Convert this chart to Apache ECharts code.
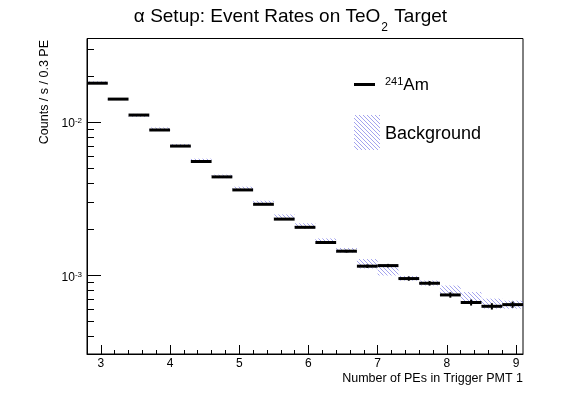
<!DOCTYPE html>
<html>
<head>
<meta charset="utf-8">
<script src="https://cdn.jsdelivr.net/npm/echarts@6.0.0/dist/echarts.min.js"></script>
<style>
  html, body { margin: 0; padding: 0; background: #fff; }
  #main { width: 581px; height: 394px; }
</style>
</head>
<body>
<div id="main"></div>
<script>
// bins of 0.3 PE
var binEdges = [2.8, 3.1, 3.4, 3.7, 4.0, 4.3, 4.6, 4.9, 5.2, 5.5, 5.8, 6.1,
                6.4, 6.7, 7.0, 7.3, 7.6, 7.9, 8.2, 8.5, 8.8, 9.1];
// 241Am rate and its error
var amRate = [0.0179, 0.0141, 0.0111, 0.00887, 0.00697, 0.00553, 0.00439, 0.00361,
              0.00291, 0.00233, 0.00206, 0.00164, 0.00144, 0.00115, 0.00116, 0.000955,
              0.00089, 0.000747, 0.000667, 0.00063, 0.000646];
var amErr = [0.0001, 0.00008, 0.00006, 0.00005, 0.00004, 0.00004, 0.00003, 0.00003,
             0.00003, 0.00003, 0.00003, 0.00003, 0.00003, 0.00003, 0.00003, 0.00003,
             0.00003, 0.00003, 0.00003, 0.00003, 0.00003];
// background band (low / high edge)
var bkgLow = [0.0177, 0.0139, 0.0108, 0.00873, 0.00687, 0.00548, 0.00431, 0.00357,
              0.00289, 0.00232, 0.00203, 0.00162, 0.00141, 0.00111, 0.00100, 0.000927,
              0.00086, 0.00074, 0.000656, 0.000608, 0.000608];
var bkgHigh = [0.0184, 0.0143, 0.0113, 0.00921, 0.00718, 0.00577, 0.00454, 0.00379,
               0.00307, 0.0025, 0.00219, 0.001745, 0.00151, 0.00128, 0.00118, 0.000993,
               0.000927, 0.00086, 0.00078, 0.000707, 0.000686];

var xLabels = [3, 4, 5, 6, 7, 8, 9];
var xMinorTicks = [3.2, 3.4, 3.6, 3.8, 4.2, 4.4, 4.6, 4.8, 5.2, 5.4, 5.6, 5.8,
                   6.2, 6.4, 6.6, 6.8, 7.2, 7.4, 7.6, 7.8, 8.2, 8.4, 8.6, 8.8];
var yMajorTicks = [0.001, 0.01];
var yMinorTicks = [0.0004, 0.0005, 0.0006, 0.0007, 0.0008, 0.0009,
                   0.002, 0.003, 0.004, 0.005, 0.006, 0.007, 0.008, 0.009, 0.02, 0.03];

var FONT = "'Liberation Sans', Arial, sans-serif";

// diagonal hatch tile
function hatchTile() {
  var c = document.createElement('canvas');
  c.width = 4; c.height = 4;
  var g = c.getContext('2d');
  g.strokeStyle = '#7c7ce6';
  g.lineWidth = 0.7;
  for (var k = -1; k <= 1; k++) {
    g.beginPath();
    g.moveTo(k * 4 - 1, -1);
    g.lineTo(k * 4 + 5, 5);
    g.stroke();
  }
  return c;
}
var hatch = { image: hatchTile(), repeat: 'repeat' };

var amData = amRate.map(function (v, i) { return [binEdges[i], binEdges[i + 1], v, amErr[i]]; });
var bkgData = bkgLow.map(function (v, i) { return [binEdges[i], binEdges[i + 1], v, bkgHigh[i]]; });

function renderAm(params, api) {
  var x0 = api.value(0), x1 = api.value(1), y = api.value(2), e = api.value(3);
  var a = api.coord([x0, y]);
  var b = api.coord([x1, y]);
  var xm = (x0 + x1) / 2;
  var lo = api.coord([xm, y - e]);
  var hi = api.coord([xm, y + e]);
  return {
    type: 'group',
    children: [
      { type: 'line', shape: { x1: a[0], y1: a[1], x2: b[0], y2: b[1] }, style: { stroke: '#000', lineWidth: 3 } },
      { type: 'line', shape: { x1: lo[0], y1: lo[1], x2: hi[0], y2: hi[1] }, style: { stroke: '#000', lineWidth: 2 } }
    ]
  };
}

function renderBkg(params, api) {
  var a = api.coord([api.value(0), api.value(3)]);
  var b = api.coord([api.value(1), api.value(2)]);
  return {
    type: 'rect',
    shape: { x: a[0], y: a[1], width: b[0] - a[0], height: b[1] - a[1] },
    style: { fill: hatch, stroke: null }
  };
}

var chart = echarts.init(document.getElementById('main'));
var option = {
  animation: false,
  backgroundColor: '#fff',
  title: {
    text: '{t|α Setup: Event Rates on TeO}{s|2}{t| Target}',
    left: 'center',
    top: 2,
    textStyle: {
      fontWeight: 'normal',
      rich: {
        t: { fontSize: 19, lineHeight: 22, verticalAlign: 'top', fontWeight: 'normal', fontFamily: FONT, color: '#000' },
        s: { fontSize: 12, lineHeight: 12, padding: [15, 1, 0, 1], verticalAlign: 'top', fontWeight: 'normal', fontFamily: FONT, color: '#000' }
      }
    }
  },
  grid: {
    left: 87, right: 58, top: 38.5, bottom: 40,
    show: true, borderColor: '#000', borderWidth: 1,
    outerBoundsMode: 'none'
  },
  xAxis: [
    {
      type: 'value', min: 2.8, max: 9.1, position: 'bottom',
      axisLine: { show: true, onZero: false, lineStyle: { color: '#000', width: 1 } },
      axisTick: { show: true, inside: true, length: 9, customValues: xLabels, lineStyle: { color: '#000' } },
      axisLabel: { customValues: xLabels, margin: 4, fontSize: 12, color: '#000', fontFamily: FONT },
      splitLine: { show: false },
      name: 'Number of PEs in Trigger PMT 1',
      nameLocation: 'end',
      nameGap: 0,
      nameMoveOverlap: false,
      nameTextStyle: { align: 'right', verticalAlign: 'top', padding: [18, 0, 0, 0], fontSize: 12.5, color: '#000', fontFamily: FONT }
    },
    {
      type: 'value', min: 2.8, max: 9.1, position: 'bottom',
      axisLine: { show: false, onZero: false },
      axisTick: { show: true, inside: true, length: 4, customValues: xMinorTicks, lineStyle: { color: '#000' } },
      axisLabel: { show: false },
      splitLine: { show: false }
    }
  ],
  yAxis: [
    {
      type: 'log', logBase: 10, min: 0.000308, max: 0.035, position: 'left',
      axisLine: { show: true, lineStyle: { color: '#000', width: 1 } },
      axisTick: { show: true, inside: true, length: 14, customValues: yMajorTicks, lineStyle: { color: '#000' } },
      axisLabel: {
        customValues: yMajorTicks,
        margin: 5,
        formatter: function (v) {
          return '{b|10}{e|' + Math.round(Math.log10(v)) + '}';
        },
        rich: {
          b: { fontSize: 12, lineHeight: 14, padding: [3, 0, 0, 0], verticalAlign: 'top', fontFamily: FONT, color: '#000' },
          e: { fontSize: 8, lineHeight: 9, padding: [2, 0, 0, 0], verticalAlign: 'top', fontFamily: FONT, color: '#000' }
        }
      },
      splitLine: { show: false }
    },
    {
      type: 'log', logBase: 10, min: 0.000308, max: 0.035, position: 'left',
      axisLine: { show: false },
      axisTick: { show: true, inside: true, length: 7, customValues: yMinorTicks, lineStyle: { color: '#000' } },
      axisLabel: { show: false },
      splitLine: { show: false }
    }
  ],
  graphic: [
    {
      type: 'text', x: 45, y: 40, rotation: Math.PI / 2,
      style: { text: 'Counts / s / 0.3 PE', align: 'right', verticalAlign: 'middle', fontSize: 12.5, fontFamily: FONT, fill: '#000' }
    },
    { type: 'line', shape: { x1: 354, y1: 84.5, x2: 375, y2: 84.5 }, style: { stroke: '#000', lineWidth: 3 } },
    {
      type: 'text', x: 385, y: 72,
      style: {
        text: '{p|241}{m|Am}', verticalAlign: 'top',
        rich: {
          p: { fontSize: 11, lineHeight: 11, padding: [4, 0, 0, 0], verticalAlign: 'top', fontFamily: FONT, fill: '#000' },
          m: { fontSize: 17, lineHeight: 17, padding: [5, 0, 0, 0], verticalAlign: 'top', fontFamily: FONT, fill: '#000' }
        }
      }
    },
    { type: 'rect', shape: { x: 354, y: 115, width: 26, height: 35 }, style: { fill: hatch, stroke: null } },
    {
      type: 'text', x: 385, y: 134,
      style: { text: 'Background', verticalAlign: 'middle', fontSize: 18, fontFamily: FONT, fill: '#000' }
    }
  ],
  series: [
    {
      name: 'Background', type: 'custom', renderItem: renderBkg,
      xAxisIndex: 0, yAxisIndex: 0,
      encode: { x: [0, 1], y: [2, 3] },
      data: bkgData, z: 2
    },
    {
      name: '241Am', type: 'custom', renderItem: renderAm,
      xAxisIndex: 0, yAxisIndex: 0,
      encode: { x: [0, 1], y: 2 },
      data: amData, z: 3
    }
  ]
};
chart.setOption(option);
</script>
</body>
</html>
